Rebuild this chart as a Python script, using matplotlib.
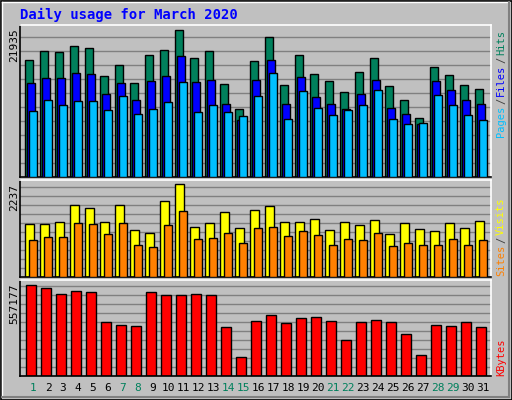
import matplotlib
matplotlib.use("Agg")
import matplotlib.pyplot as plt
from matplotlib.patches import Rectangle

days = list(range(1, 32))
weekend_days = [1, 7, 8, 14, 15, 21, 22, 28, 29]

hits = [17470, 18809, 18660, 19553, 19256, 15087, 16725, 14045, 18213, 18958, 21935,
        17767, 18809, 13896, 10174, 17320, 20893, 13747, 18213, 15385, 14342, 12705,
        15682, 17767, 13598, 11514, 8834, 16427, 15236, 13747, 13151]
files = [14045, 14789, 14789, 15534, 15385, 12407, 14045, 11514, 14342, 15087, 18064,
         14194, 14491, 10918, 8536, 14491, 17470, 10918, 14938, 11960, 10918, 10174,
         12407, 14491, 10323, 9429, 7940, 14342, 13003, 11514, 10918]
pages = [9876, 11514, 10769, 11365, 11365, 10025, 12109, 9429, 10174, 11216, 14194,
         9727, 10769, 9727, 9132, 12109, 15534, 8685, 12854, 10323, 9280, 10025,
         10769, 13003, 8685, 7940, 8089, 12258, 10769, 9280, 8536]
visits = [1289, 1289, 1337, 1751, 1678, 1337, 1751, 1143, 1070, 1848, 2237,
          1216, 1313, 1580, 1191, 1629, 1726, 1337, 1337, 1410, 1143, 1337,
          1264, 1386, 1046, 1313, 1167, 1118, 1313, 1191, 1362]
sites = [900, 973, 973, 1313, 1289, 1046, 1313, 778, 729, 1264, 1605,
         924, 948, 1070, 827, 1191, 1216, 997, 1118, 1021, 778, 924,
         900, 1070, 754, 827, 778, 778, 924, 778, 900]
kbytes = [557177, 538824, 502086, 520455, 514332, 330642, 312273, 306150, 514332, 495963,
          495963, 502086, 495963, 300027, 116337, 336765, 373503, 324519, 355134, 361257,
          336765, 220428, 330642, 342888, 330642, 257166, 128583, 312273, 306150, 330642,
          300027]

W, H = 512, 400
GRAY = "#C0C0C0"
GREEN = "#00805C"
MONO = "DejaVu Sans Mono"

fig = plt.figure(figsize=(W / 100, H / 100), dpi=100, facecolor=GRAY)

# outer frame with bevel
bg = fig.add_axes([0, 0, 1, 1])
bg.set_xlim(0, W)
bg.set_ylim(H, 0)
bg.axis("off")
bg.add_patch(Rectangle((0.5, 0.5), W - 1, H - 1, fill=False, ec="black", lw=1.2))
bg.plot([2, W - 3], [2, 2], color="white", lw=1)
bg.plot([2, 2], [2, H - 3], color="white", lw=1)
bg.plot([W - 3, W - 3], [2, H - 3], color="#808080", lw=1.5)
bg.plot([2, W - 3], [H - 3, H - 3], color="#808080", lw=1.5)


def panel(top, bottom):
    ax = fig.add_axes([20 / W, 1 - bottom / H, 471 / W, (bottom - top) / H])
    ax.set_facecolor(GRAY)
    ax.set_xlim(0, 31.4)
    ax.set_xticks([])
    ax.set_yticks([])
    for s in ax.spines.values():
        s.set_color("black")
        s.set_linewidth(1.2)
    ax.spines["top"].set_color("white")
    ax.spines["right"].set_color("white")
    return ax


def grid(ax, ymax, step_frac):
    y = step_frac
    while y < 1:
        ax.axhline(ymax * y, color="#808080", lw=1, zorder=0)
        y += step_frac


x0 = [d - 1 for d in days]

# hits / files / pages
ax1 = panel(25, 177)
top1 = 21935 * 152 / 147.3
ax1.set_ylim(0, top1)
grid(ax1, top1, 14 / 152)
ax1.bar([x + 0.35 for x in x0], hits, width=0.49, align="edge", color=GREEN, ec="black", lw=1, zorder=2)
ax1.bar([x + 0.48 for x in x0], files, width=0.49, align="edge", color="#0000FF", ec="black", lw=1, zorder=3)
ax1.bar([x + 0.62 for x in x0], pages, width=0.49, align="edge", color="#00BFFF", ec="black", lw=1, zorder=4)

# visits / sites
ax2 = panel(180, 277)
top2 = 2237 * 97 / 92.5
ax2.set_ylim(0, top2)
grid(ax2, top2, 9 / 97)
ax2.bar([x + 0.35 for x in x0], visits, width=0.56, align="edge", color="#FFFF00", ec="black", lw=1, zorder=2)
ax2.bar([x + 0.62 for x in x0], sites, width=0.49, align="edge", color="#FF8000", ec="black", lw=1, zorder=3)

# kbytes
ax3 = panel(280, 376)
top3 = 557177 * 96 / 91.5
ax3.set_ylim(0, top3)
grid(ax3, top3, 9 / 96)
ax3.bar([x + 0.42 for x in x0], kbytes, width=0.67, align="edge", color="#FF0000", ec="black", lw=1, zorder=2)

# day labels
for d in days:
    ax3.text(d - 1 + 0.87, -0.07, str(d), transform=ax3.get_xaxis_transform(),
             ha="center", va="top", fontsize=8, family=MONO,
             color=GREEN if d in weekend_days else "black")

# title
bg.text(20, 15, "Daily usage for March 2020", color="#0000FF", fontsize=10,
        family=MONO, fontweight="bold", va="center", ha="left")

# left max labels
bg.text(14, 28, "21935", rotation=90, ha="center", va="top", fontsize=8, family=MONO)
bg.text(14, 184, "2237", rotation=90, ha="center", va="top", fontsize=8, family=MONO)
bg.text(14, 284, "557177", rotation=90, ha="center", va="top", fontsize=8, family=MONO)


def side_label(parts, y_bottom):
    y = y_bottom
    for txt, col in parts:
        bg.text(501, y, txt, rotation=90, ha="center", va="bottom",
                fontsize=7.5, family=MONO, color=col)
        y -= len(txt) * 6.3 + 1.5


side_label([("Pages", "#00BFFF"), ("/", "#404040"), ("Files", "#0000FF"),
            ("/", "#404040"), ("Hits", GREEN)], 137)
side_label([("Sites", "#FF8000"), ("/", "#404040"), ("Visits", "#FFFF00")], 276)
side_label([("KBytes", "#FF0000")], 376)

fig.savefig("out.png", dpi=100, facecolor=GRAY)
